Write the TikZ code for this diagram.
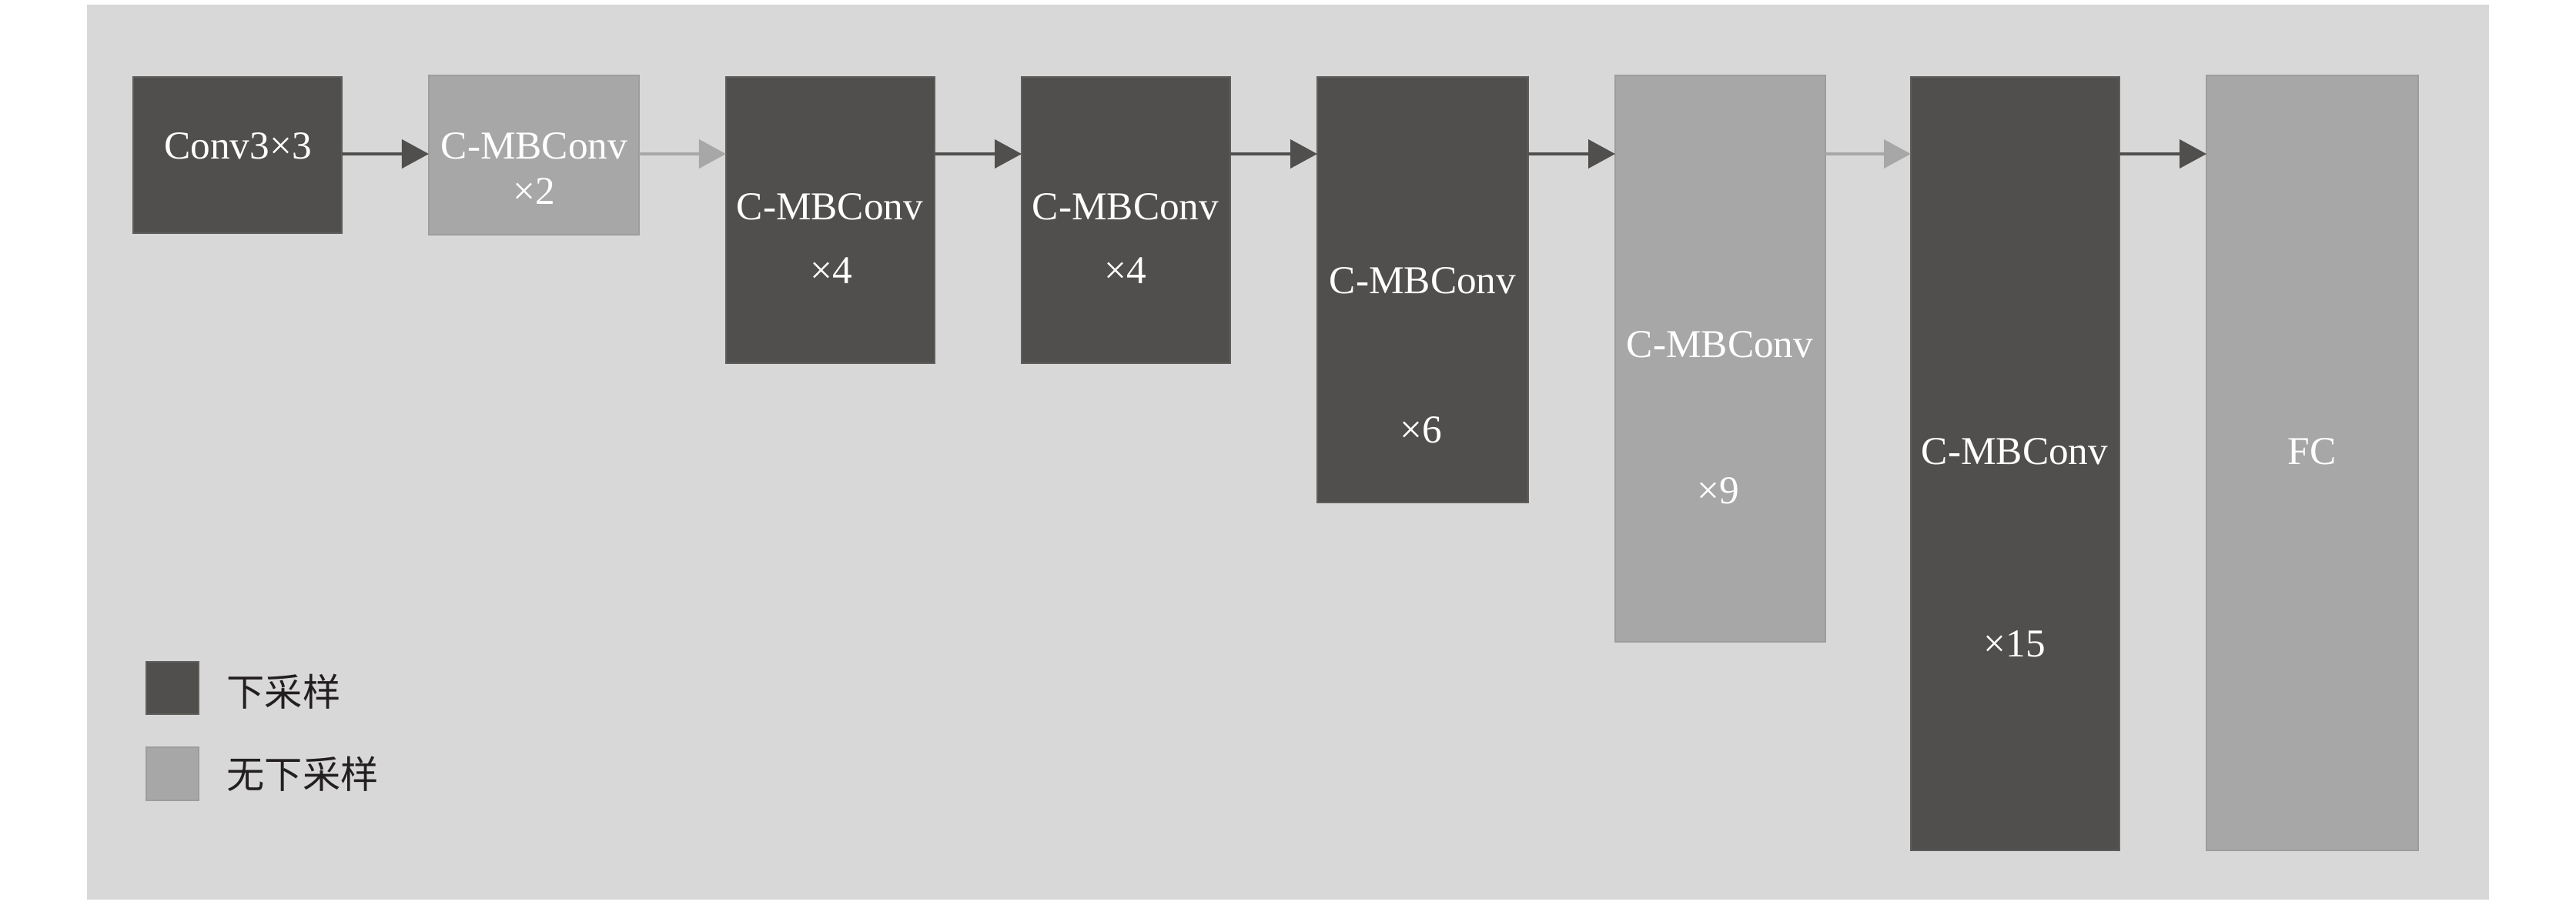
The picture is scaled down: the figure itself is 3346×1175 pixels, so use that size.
\documentclass[tikz,border=0pt]{standalone}
\usepackage{fontspec}
\setmainfont{Liberation Serif}
\newfontfamily\cjk{Noto Sans CJK SC}
\usetikzlibrary{arrows.meta,calc}
\definecolor{bgc}{HTML}{D8D8D8}
\definecolor{darkc}{HTML}{504F4D}
\definecolor{darkb}{HTML}{5F5E5C}
\definecolor{lightc}{HTML}{A8A7A8}
\definecolor{lightb}{HTML}{9E9D9E}
\definecolor{legtext}{HTML}{231F20}
\tikzset{
  dbox/.style={fill=darkc, draw=darkb, line width=0.6pt, inner sep=0pt},
  lbox/.style={fill=lightc, draw=lightb, line width=0.6pt, inner sep=0pt},
  wtext/.style={text=white, inner sep=0pt, font=\fontsize{14.6}{17}\selectfont},
  ltext/.style={text=legtext, inner sep=0pt, anchor=west, font=\cjk\fontsize{14}{17}\selectfont},
  darr/.style={draw=darkc, line width=1.15pt, -{Triangle[length=0.35cm,width=0.37cm]}},
  larr/.style={draw=lightc, line width=1.15pt, -{Triangle[length=0.35cm,width=0.37cm]}},
}
\begin{document}
\begin{tikzpicture}[x=0.01cm,y=-0.01cm]
\useasboundingbox (0,0) rectangle (3346,1175);
\fill[bgc] (113,6) rectangle (3233,1169);
% boxes
\path[dbox] (173,100) rectangle (444,303) node[midway] (b1) {};
\path[lbox] (557,98) rectangle (830,305) node[midway] (b2) {};
\path[dbox] (943,100) rectangle (1214,472) node[midway] (b3) {};
\path[dbox] (1327,100) rectangle (1598,472) node[midway] (b4) {};
\path[dbox] (1711,100) rectangle (1985,653) node[midway] (b5) {};
\path[lbox] (2098,98) rectangle (2371,834) node[midway] (b6) {};
\path[dbox] (2482,100) rectangle (2753,1105) node[midway] (b7) {};
\path[lbox] (2866,98) rectangle (3141,1105) node[midway] (b8) {};
% anchors for arrows
\coordinate (e1) at (444,200); \coordinate (w2) at (557,200);
\coordinate (e2) at (830,200); \coordinate (w3) at (943,200);
\coordinate (e3) at (1214,200); \coordinate (w4) at (1327,200);
\coordinate (e4) at (1598,200); \coordinate (w5) at (1711,200);
\coordinate (e5) at (1985,200); \coordinate (w6) at (2098,200);
\coordinate (e6) at (2371,200); \coordinate (w7) at (2482,200);
\coordinate (e7) at (2753,200); \coordinate (w8) at (2866,200);
\draw[darr] (e1) -- (w2);
\draw[larr] (e2) -- (w3);
\draw[darr] (e3) -- (w4);
\draw[darr] (e4) -- (w5);
\draw[darr] (e5) -- (w6);
\draw[larr] (e6) -- (w7);
\draw[darr] (e7) -- (w8);
% texts
\node[wtext] (t1) at (309,190) {Conv3×3};
\node[wtext] (t2a) at (694,190) {C-MBConv};
\node[wtext] (t2b) at (694,248) {×2};
\node[wtext] (t3a) at (1078,269) {C-MBConv};
\node[wtext] (t3b) at (1080,352) {×4};
\node[wtext] (t4a) at (1462,269) {C-MBConv};
\node[wtext] (t4b) at (1462,352) {×4};
\node[wtext] (t5a) at (1848,365) {C-MBConv};
\node[wtext] (t5b) at (1846,559) {×6};
\node[wtext] (t6a) at (2234,448) {C-MBConv};
\node[wtext] (t6b) at (2232,638) {×9};
\node[wtext] (t7a) at (2617,587) {C-MBConv};
\node[wtext] (t7b) at (2617,837) {×15};
\node[wtext] (t8) at (3003,587) {FC};
% legend
\path[dbox] (190,860) rectangle (258,928) node[midway] (lg1) {};
\path[lbox] (190,971) rectangle (258,1040) node[midway] (lg2) {};
\node[ltext] (lt1) at (294,899) {下采样};
\node[ltext] (lt2) at (294,1006) {无下采样};
\end{tikzpicture}
\end{document}
